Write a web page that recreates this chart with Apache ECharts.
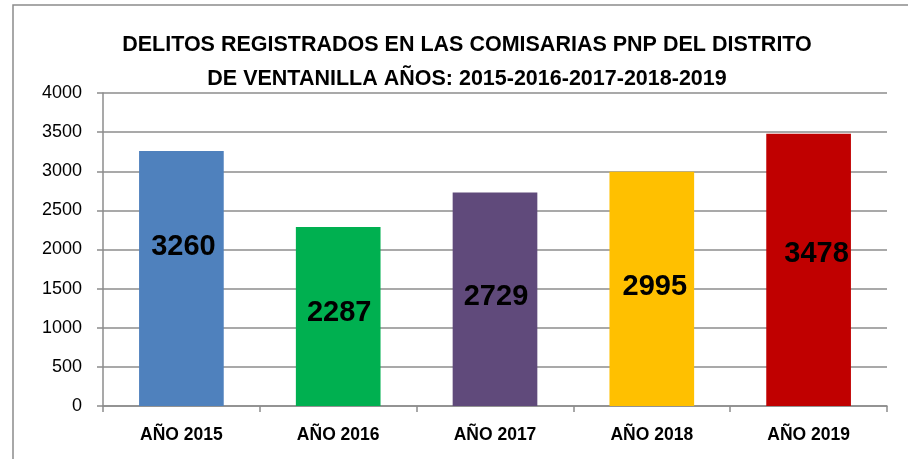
<!DOCTYPE html>
<html>
<head>
<meta charset="utf-8">
<script src="https://cdn.jsdelivr.net/npm/echarts@6/dist/echarts.min.js"></script>
<style>
  html, body { margin: 0; padding: 0; background: #fff; }
  #chart { width: 908px; height: 459px; }
</style>
</head>
<body>
<div id="chart"></div>
<script>
  // datos
  const years = ['AÑO 2015', 'AÑO 2016', 'AÑO 2017', 'AÑO 2018', 'AÑO 2019'];
  const delitos = [3260, 2287, 2729, 2995, 3478];
  const barColors = ['#4F81BD', '#00B050', '#604A7B', '#FFC000', '#C00000'];
  // desplazamiento de las etiquetas respecto al centro de la barra
  const labelShift = [[2, -31], [1, -4], [1, -2], [3, -2], [8, -16]];

  const axisGray = '#8c8c8c';
  const font = '"Liberation Sans", Arial, sans-serif';

  let myChart = echarts.init(document.getElementById('chart'));
  let option = {
    animation: false,
    backgroundColor: '#fff',
    title: {
      text: 'DELITOS REGISTRADOS EN LAS COMISARIAS PNP DEL DISTRITO\nDE VENTANILLA AÑOS: 2015-2016-2017-2018-2019',
      left: 462,
      top: 23,
      textAlign: 'center',
      textStyle: {
        fontFamily: font,
        fontWeight: 'bold',
        fontSize: 21.5,
        lineHeight: 34,
        color: '#000'
      }
    },
    graphic: [{
      type: 'polyline',
      shape: { points: [[13, 459], [13, 5], [908, 5]] },
      style: { stroke: axisGray, lineWidth: 1.5, fill: null }
    }],
    grid: {
      left: 103,
      right: 21,
      top: 93,
      bottom: 53
    },
    xAxis: {
      type: 'category',
      data: years,
      axisLine: { lineStyle: { color: axisGray, width: 1.5 } },
      axisTick: { show: true, length: 6, lineStyle: { color: axisGray, width: 1.5 } },
      axisLabel: {
        margin: 20,
        fontFamily: font,
        fontWeight: 'bold',
        fontSize: 17.5,
        color: '#000'
      }
    },
    yAxis: {
      type: 'value',
      min: 0,
      max: 4000,
      interval: 500,
      axisLine: { show: true, lineStyle: { color: axisGray, width: 1.5 } },
      axisTick: { show: true, length: 6, lineStyle: { color: axisGray, width: 1.5 } },
      axisLabel: {
        margin: 21,
        fontFamily: font,
        fontSize: 18,
        color: '#000',
        formatter: v => String(v)
      },
      splitLine: { lineStyle: { color: axisGray, width: 1.5 } }
    },
    series: [{
      type: 'bar',
      barCategoryGap: '46%',
      data: delitos.map((v, i) => ({
        value: v,
        itemStyle: { color: barColors[i] },
        label: { offset: labelShift[i] }
      })),
      label: {
        show: true,
        position: 'inside',
        fontFamily: font,
        fontWeight: 'bold',
        fontSize: 29,
        color: '#000'
      }
    }]
  };
  myChart.setOption(option);
</script>
</body>
</html>
